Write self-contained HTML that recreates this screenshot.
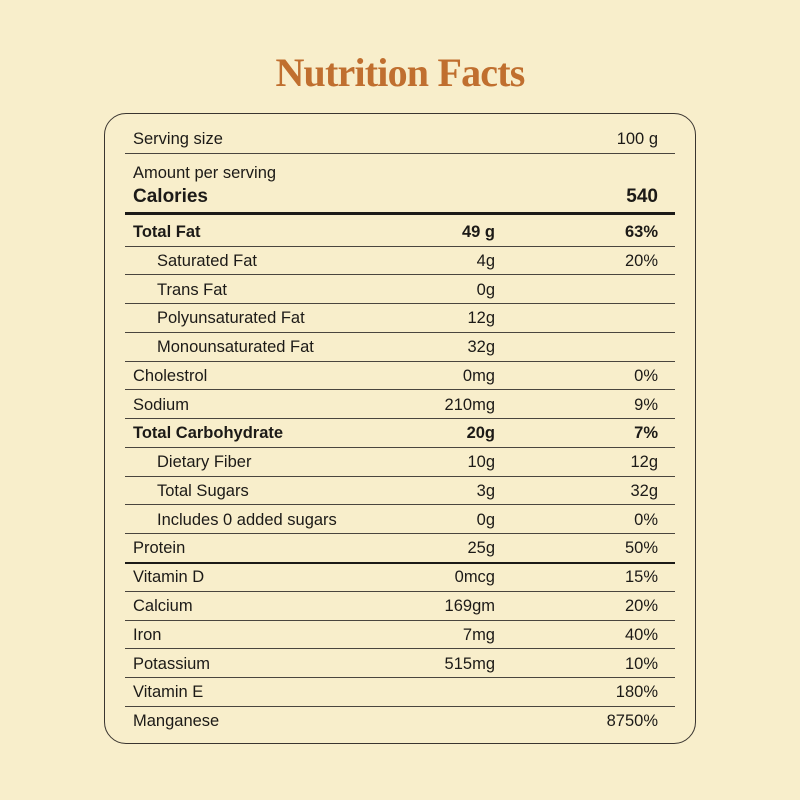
<!DOCTYPE html>
<html><head><meta charset="utf-8"><style>
body{margin:0;width:800px;height:800px;background:#f8eecb;font-family:"Liberation Sans",sans-serif;color:#1c1a17;position:relative;overflow:hidden}
h1{position:absolute;top:49px;left:0;width:800px;text-align:center;margin:0;font-family:"Liberation Serif",serif;font-weight:bold;font-size:40px;color:#c06f2f;letter-spacing:-0.8px}
.box{position:absolute;left:104px;top:113px;width:590px;height:629px;border:1.5px solid #3a3530;border-radius:22px}
.r{position:absolute;left:125px;width:550px;height:29px;font-size:16.5px;line-height:29px}
.r span{position:absolute}
.n{left:8px}.i{left:32px}
.v{right:180px}.p{right:17px}
.line{position:absolute;left:125px;width:550px;height:1px;background:#4a453e}
</style></head><body>
<h1>Nutrition Facts</h1>
<div class="box"></div>
<div class="r" style="top:125px"><span class="n">Serving size</span><span class="p">100 g</span></div>
<div class="line" style="top:153px"></div>
<div class="r" style="top:159px"><span class="n">Amount per serving</span></div>
<div class="r" style="top:182px;font-size:19px;font-weight:bold"><span class="n">Calories</span><span class="p">540</span></div>
<div class="line" style="top:212px;height:3px;background:#1c1a17"></div>
<div id="rows"></div>
<script>
var d=[["Total Fat","49 g","63%",1,0],["Saturated Fat","4g","20%",0,1],["Trans Fat","0g","",0,1],["Polyunsaturated Fat","12g","",0,1],["Monounsaturated Fat","32g","",0,1],["Cholestrol","0mg","0%",0,0],["Sodium","210mg","9%",0,0],["Total Carbohydrate","20g","7%",1,0],["Dietary Fiber","10g","12g",0,1],["Total Sugars","3g","32g",0,1],["Includes 0 added sugars","0g","0%",0,1],["Protein","25g","50%",0,0],["Vitamin D","0mcg","15%",0,0],["Calcium","169gm","20%",0,0],["Iron","7mg","40%",0,0],["Potassium","515mg","10%",0,0],["Vitamin E","","180%",0,0],["Manganese","","8750%",0,0]];
var h="";
for(var k=0;k<d.length;k++){var t=216+k*28.77;var r=d[k];
h+='<div class="r" style="top:'+(t+2)+'px;'+(r[3]?'font-weight:bold':'')+'"><span class="'+(r[4]?'i':'n')+'">'+r[0]+'</span><span class="v">'+r[1]+'</span><span class="p">'+r[2]+'</span></div>';
if(k<d.length-1)h+='<div class="line" style="top:'+(t+29.5)+'px;'+(k==11?'height:2px;background:#1c1a17':'')+'"></div>';}
document.getElementById('rows').innerHTML=h;
</script>
</body></html>
